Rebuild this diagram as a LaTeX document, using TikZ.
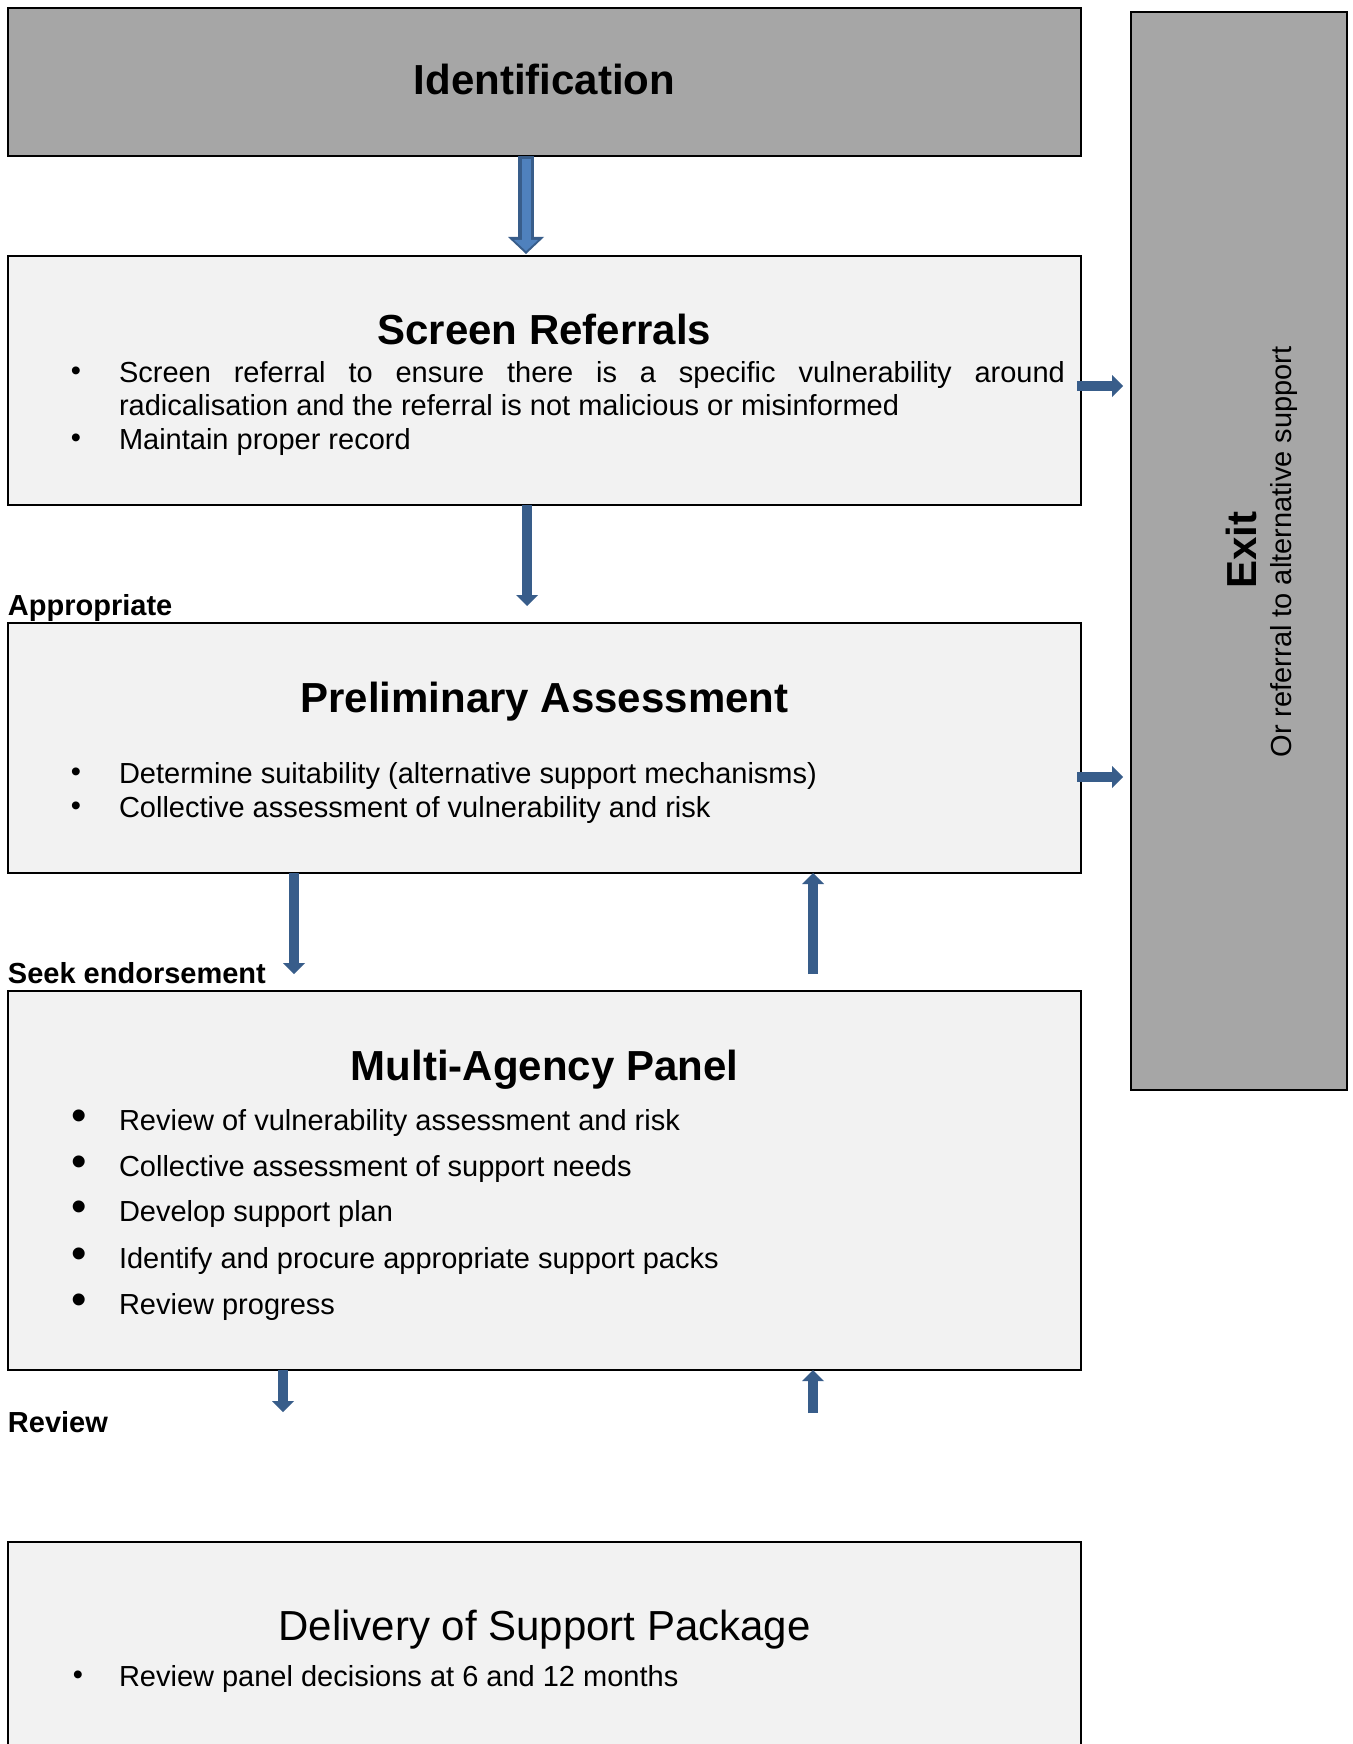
\documentclass[tikz,border=0pt]{standalone}
\usepackage{fontspec}
\setmainfont{Liberation Sans}
\usetikzlibrary{arrows.meta}

\definecolor{greyfill}{HTML}{A6A6A6}
\definecolor{boxfill}{HTML}{F2F2F2}
\definecolor{arrowblue}{HTML}{385D8A}
\definecolor{arrowlight}{HTML}{4F81BD}

\begin{document}
\begin{tikzpicture}[
		x=1pt, y=-1pt,
		every node/.style={inner sep=0pt, outer sep=0pt},
		box/.style={rectangle, draw, line width=2pt, fill=boxfill, anchor=north west, minimum width=1073pt},
		greybox/.style={box, fill=greyfill},
		title/.style={anchor=base, font=\fontsize{42}{48}\selectfont\bfseries},
		item/.style={anchor=base west, font=\fontsize{29}{33}\selectfont},
		dot/.style={font=\fontsize{29}{33}\selectfont},
		bigdot/.style={font=\fontsize{44}{50}\selectfont},
		tag/.style={anchor=base west, font=\fontsize{29}{33}\selectfont\bfseries},
		arr/.style={line width=10pt, draw=arrowblue, -{Triangle[width=22pt, length=11pt, line width=0pt]}}
	]
  \useasboundingbox (0,0) rectangle (1352,1744);
  \fill[white] (0,0) rectangle (1352,1744);

  \node (ident) [greybox, minimum height=148pt] at (8,8) {};
  \node (screen) [box, minimum height=249pt] at (8,256) {};
  \node (prelim) [box, minimum height=250pt] at (8,623) {};
  \node (map) [box, minimum height=379pt] at (8,991) {};
  \node (delivery) [box, minimum height=260pt] at (8,1542) {};
  \node (exit) [greybox, minimum width=216pt, minimum height=1078pt] at (1131,12) {};

  \node (ident_title) [title] at (544.5,95) {Identification};

  \node (screen_title) [title] at (544.5,344) {Screen Referrals};
  \node (screen_dot1) [dot] at (76,374) {•};
  \node (screen_item1) [item] at (119,382) {\makebox[946pt][s]{Screen referral to ensure there is a specific vulnerability around}};
  \node (screen_item1b) [item] at (119,415) {radicalisation and the referral is not malicious or misinformed};
  \node (screen_dot2) [dot] at (76,441) {•};
  \node (screen_item2) [item] at (119,449) {Maintain proper record};

  \node (prelim_title) [title] at (544.5,712) {Preliminary Assessment};
  \node (prelim_dot1) [dot] at (76,775) {•};
  \node (prelim_item1) [item] at (119,783) {Determine suitability (alternative support mechanisms)};
  \node (prelim_dot2) [dot] at (76,809) {•};
  \node (prelim_item2) [item] at (119,817) {Collective assessment of vulnerability and risk};

  \node (map_title) [title] at (544.5,1080) {Multi-Agency Panel};
  \node (map_dot1) [bigdot] at (79,1120) {•};
  \node (map_item1) [item] at (119,1130) {Review of vulnerability assessment and risk};
  \node (map_dot2) [bigdot] at (79,1166) {•};
  \node (map_item2) [item] at (119,1176) {Collective assessment of support needs};
  \node (map_dot3) [bigdot] at (79,1211) {•};
  \node (map_item3) [item] at (119,1221) {Develop support plan};
  \node (map_dot4) [bigdot] at (79,1258) {•};
  \node (map_item4) [item] at (119,1268) {Identify and procure appropriate support packs};
  \node (map_dot5) [bigdot] at (79,1304) {•};
  \node (map_item5) [item] at (119,1314) {Review progress};

  \node (delivery_title) [title, font=\fontsize{42}{48}\selectfont] at (544.5,1640) {Delivery of Support Package};
  \node (delivery_dot) [dot] at (78,1678) {•};
  \node (delivery_item) [item] at (119,1686) {Review panel decisions at 6 and 12 months};

  \node (exit_title) [rotate=90, font=\fontsize{42}{48}\selectfont\bfseries] at (1241,550) {Exit};
  \node (exit_text) [rotate=90, font=\fontsize{29}{33}\selectfont] at (1284,552) {Or referral to alternative support};

  \node (appropriate) [tag] at (8,615) {Appropriate};
  \node (seek) [tag] at (8,983) {Seek endorsement};
  \node (review) [tag] at (8,1432) {Review};

  \draw[arr, line width=16pt, -{Triangle[width=36pt, length=17pt, line width=0pt]}] ([xshift=-18.5pt]ident.south) -- ([xshift=-18.5pt, yshift=2pt]screen.north);
  \draw[arr, draw=arrowlight, line width=9pt, -{Triangle[width=24pt, length=11pt, line width=0pt]}, shorten <=3pt, shorten >=3pt] ([xshift=-18.5pt]ident.south) -- ([xshift=-18.5pt, yshift=2pt]screen.north);
  \draw[arr] ([xshift=-17.5pt]screen.south) -- ([xshift=-17.5pt, yshift=17pt]prelim.north);
  \draw[arr] ([xshift=-4pt]screen.east |- 0,386) -- ([xshift=-8pt]exit.west |- 0,386);
  \draw[arr] ([xshift=-4pt]prelim.east |- 0,777) -- ([xshift=-8pt]exit.west |- 0,777);
  \draw[arr] (prelim.south -| 294,0) -- ([yshift=17pt]map.north -| 294,0);
  \draw[arr] ([yshift=17pt]map.north -| 813,0) -- (prelim.south -| 813,0);
  \draw[arr] (map.south -| 283,0) -- (283,1412);
  \draw[arr] (813,1413) -- (map.south -| 813,0);
\end{tikzpicture}
\end{document}
